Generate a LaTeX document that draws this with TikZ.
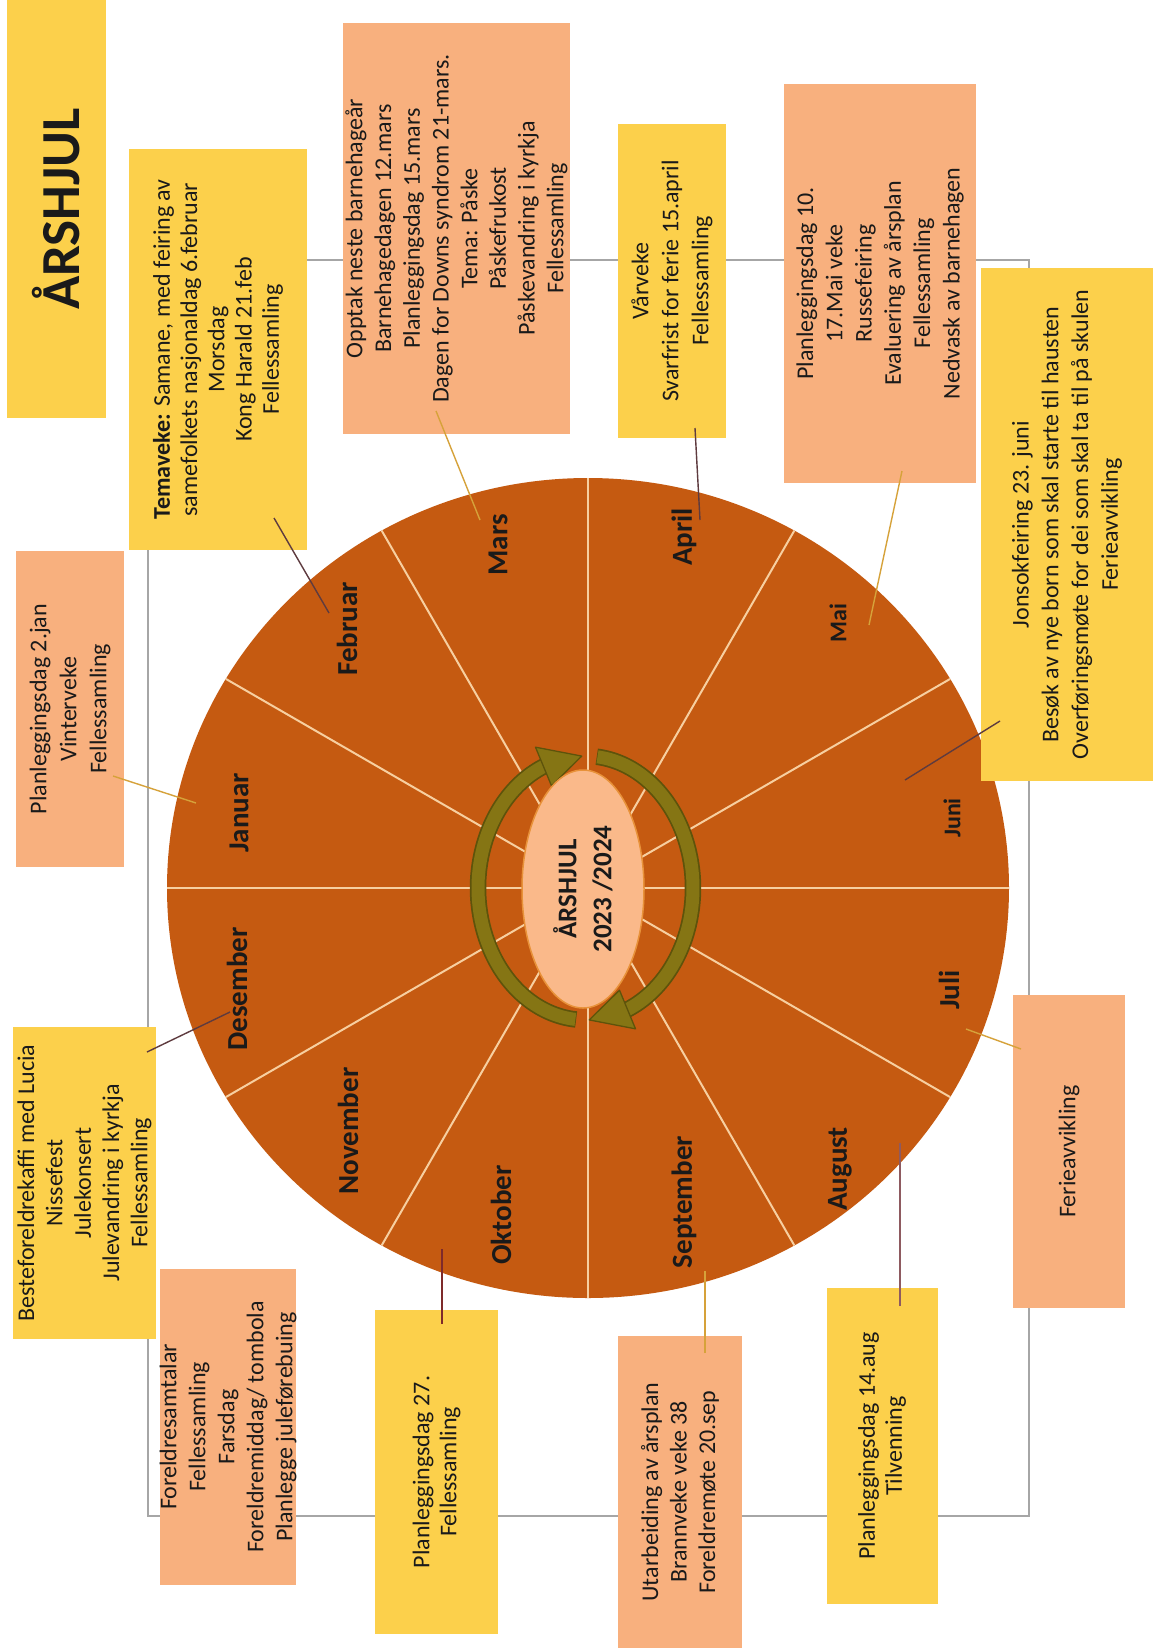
\documentclass[tikz,border=0pt]{standalone}
\usepackage{fontspec}
\setmainfont{Carlito}
\usetikzlibrary{shapes.geometric}
\definecolor{wheelcol}{HTML}{C55A11}
\definecolor{spokecol}{HTML}{F7CFA0}
\definecolor{cY}{HTML}{FCD04B}
\definecolor{cS}{HTML}{F8B07E}
\definecolor{framecol}{HTML}{A6A6A6}
\definecolor{olivecol}{HTML}{857514}
\definecolor{darkolive}{HTML}{5E530B}
\definecolor{hubcol}{HTML}{FAB98A}
\definecolor{hubline}{HTML}{E8923A}
\definecolor{goldline}{HTML}{D6A23A}
\definecolor{darkline}{HTML}{5E3B3F}
\definecolor{mauveline}{HTML}{8E5A60}
\definecolor{redline}{HTML}{7E2A2A}
\definecolor{ink}{HTML}{1A1A1A}
\tikzset{
  box/.style={rotate=90, inner sep=0pt, outer sep=0pt, align=center, text=ink,
    font=\fontsize{24}{29.3}\selectfont},
  yelbox/.style={box, fill=cY},
  salbox/.style={box, fill=cS},
  month/.style={rotate=90, inner sep=0pt, text=ink, font=\bfseries\fontsize{29}{34}\selectfont},
  smallmonth/.style={month, font=\bfseries\fontsize{24}{28}\selectfont},
  con/.style={line width=1.4pt},
  band/.style={line width=16.5pt, darkolive},
  bandin/.style={line width=13pt, olivecol},
  head/.style={fill=olivecol, draw=darkolive, line width=1.3pt, line join=round}
}
\begin{document}
\begin{tikzpicture}[x=1pt,y=-1pt]
\useasboundingbox (0,0) rectangle (1153,1652);
\fill[white] (0,0) rectangle (1153,1652);

% frame
\draw[framecol, line width=1.6pt] (148,260) rectangle (1029,1516);

% wheel
\node[ellipse, fill=wheelcol, minimum width=842pt, minimum height=820pt, inner sep=0pt, outer sep=0pt] (wheel) at (588,888) {};
\foreach \a in {0,30,...,330} \draw[spokecol, line width=2pt] (wheel.center) -- (wheel.\a);

% month labels
\node[month] (mJan) at (239,813) {Januar};
\node[month] (mFeb) at (347,629) {Februar};
\node[month] (mMar) at (498,545) {Mars};
\node[month] (mApr) at (684,537) {April};
\node[smallmonth] (mMai) at (838,623) {Mai};
\node[smallmonth] (mJun) at (952,818) {Juni};
\node[month] (mJul) at (949,990) {Juli};
\node[month] (mAug) at (840,1169) {August};
\node[month] (mSep) at (684,1202) {September};
\node[month] (mOkt) at (501,1215) {Oktober};
\node[month] (mNov) at (348,1131) {November};
\node[month] (mDes) at (237,989) {Desember};

% circular arrows
\draw[band] plot[domain=95:250, samples=90] ({585.5+107.5*cos(\x)},{888+132*sin(\x)});
\draw[bandin] plot[domain=95.4:250, samples=90] ({585.5+107.5*cos(\x)},{888+132*sin(\x)});
\filldraw[head] ({585.5+128*cos(247)},{888+153*sin(247)}) -- ({585.5+87*cos(247)},{888+111*sin(247)}) -- ({585.5+107.5*cos(268)},{888+132*sin(268)}) -- cycle;
\draw[band] plot[domain=-84:70, samples=90] ({585.5+107.5*cos(\x)},{888+132*sin(\x)});
\draw[bandin] plot[domain=-83.6:70, samples=90] ({585.5+107.5*cos(\x)},{888+132*sin(\x)});
\filldraw[head] ({585.5+128*cos(67)},{888+153*sin(67)}) -- ({585.5+87*cos(67)},{888+111*sin(67)}) -- ({585.5+107.5*cos(88)},{888+132*sin(88)}) -- cycle;

% hub
\node[ellipse, rotate=90, fill=hubcol, draw=hubline, line width=1.5pt, minimum width=238pt, minimum height=122pt, inner sep=0pt, align=center, text=ink, font=\bfseries\fontsize{27}{35}\selectfont] (hub) at (583,889) {ÅRSHJUL\\2023 /2024};

% boxes
\node[yelbox, minimum width=418pt, minimum height=99pt, font=\bfseries\fontsize{55}{60}\selectfont] (title) at (56.5,209) {ÅRSHJUL};
\node[yelbox, minimum width=401pt, minimum height=178pt, font=\fontsize{24}{27.3}\selectfont] (feb) at (218,349.5) {\textbf{Temaveke:} Samane, med feiring av\\samefolkets nasjonaldag 6.februar\\Morsdag\\Kong Harald 21.feb\\Fellessamling};
\node[salbox, minimum width=411pt, minimum height=227pt, font=\fontsize{24}{28.7}\selectfont] (mar) at (456.5,228.5) {Opptak neste barnehageår\\Barnehagedagen 12.mars\\Planleggingsdag 15.mars\\Dagen for Downs syndrom 21-mars.\\Tema: Påske\\Påskefrukost\\Påskevandring i kyrkja\\Fellessamling};
\node[yelbox, minimum width=314pt, minimum height=108pt, font=\fontsize{24}{30}\selectfont] (apr) at (672,281) {Vårveke\\Svarfrist for ferie 15.april\\Fellessamling};
\node[salbox, minimum width=399pt, minimum height=192pt, font=\fontsize{24}{29.3}\selectfont] (mai) at (880,283.5) {Planleggingsdag 10.\\17.Mai veke\\Russefeiring\\Evaluering av årsplan\\Fellessamling\\Nedvask av barnehagen};
\node[yelbox, minimum width=513pt, minimum height=172pt, font=\fontsize{24}{29.7}\selectfont] (jun) at (1067,524.5) {Jonsokfeiring 23. juni\\Besøk av nye born som skal starte til hausten\\Overføringsmøte for dei som skal ta til på skulen\\Ferieavvikling};
\node[salbox, minimum width=313pt, minimum height=112pt] (jul) at (1069,1151.5) {Ferieavvikling};
\node[yelbox, minimum width=316pt, minimum height=111pt, font=\fontsize{24}{27}\selectfont] (aug) at (882,1446) {Planleggingsdag 14.aug\\Tilvenning};
\node[salbox, minimum width=312pt, minimum height=124pt, font=\fontsize{24}{28.5}\selectfont] (sep) at (680,1492) {Utarbeiding av årsplan\\Brannveke veke 38\\Foreldremøte 20.sep};
\node[yelbox, minimum width=324pt, minimum height=123pt, font=\fontsize{24}{27}\selectfont] (okt) at (436.5,1472) {Planleggingsdag 27.\\Fellessamling};
\node[salbox, minimum width=316pt, minimum height=134pt, font=\fontsize{24}{29}\selectfont] (nov) at (228,1427) {Foreldresamtalar\\Fellessamling\\Farsdag\\Foreldremiddag/ tombola\\Planlegge juleførebuing};
\node[yelbox, minimum width=312pt, minimum height=143pt, font=\fontsize{24}{28.3}\selectfont] (des) at (84.5,1183) {Besteforeldrekaffi med Lucia\\Nissefest\\Julekonsert\\Julevandring i kyrkja\\Fellessamling};
\node[salbox, minimum width=316pt, minimum height=108pt, font=\fontsize{24}{30}\selectfont] (jan) at (70,709) {Planleggingsdag 2.jan\\Vinterveke\\Fellessamling};

% connector end points
\coordinate (janA) at (113,776);  \coordinate (janB) at (196,803);
\coordinate (febA) at (274,518);  \coordinate (febB) at (329,613);
\coordinate (marA) at (436,411);  \coordinate (marB) at (480,520);
\coordinate (aprA) at (695,428);  \coordinate (aprB) at (700,520);
\coordinate (maiA) at (902,471);  \coordinate (maiB) at (869,625);
\coordinate (junA) at (1000,721); \coordinate (junB) at (905,780);
\coordinate (julA) at (1021,1049);\coordinate (julB) at (966,1029);
\coordinate (augA) at (900,1306); \coordinate (augB) at (900,1143);
\coordinate (sepA) at (705,1353); \coordinate (sepB) at (705,1271);
\coordinate (oktA) at (442,1324); \coordinate (oktB) at (442,1249);
\coordinate (desA) at (147,1052); \coordinate (desB) at (230,1012);

\draw[con, goldline] (janA) -- (janB);
\draw[con, darkline] (febA) -- (febB);
\draw[con, goldline] (marA) -- (marB);
\draw[con, darkline] (aprA) -- (aprB);
\draw[con, goldline] (maiA) -- (maiB);
\draw[con, darkline] (junA) -- (junB);
\draw[con, goldline] (julA) -- (julB);
\draw[con, mauveline] (augA) -- (augB);
\draw[con, goldline] (sepA) -- (sepB);
\draw[con, redline] (oktA) -- (oktB);
\draw[con, darkline] (desA) -- (desB);
\end{tikzpicture}
\end{document}
